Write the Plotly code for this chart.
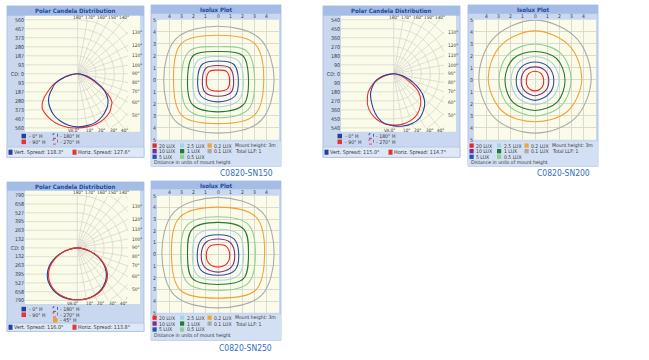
import numpy as np
import plotly.graph_objects as go

W, H = 649, 360

# ---------------- data ----------------
V_ANGLES = [0, 10, 20, 30, 40, 45, 50, 55, 60, 65, 70, 75, 80, 85, 90]

# candela per vertical angle for each horizontal plane
SN150_CD_0H   = [550, 545, 535, 505, 462, 435, 400, 350, 290, 215, 150, 100, 55, 20, 0]
SN150_CD_180H = [550, 540, 520, 490, 445, 418, 385, 342, 295, 262, 205, 145, 85, 30, 0]
SN150_CD_90H  = [560, 558, 552, 540, 510, 482, 455, 380, 272, 185, 112, 62, 30, 10, 0]
SN150_CD_270H = [560, 565, 560, 548, 525, 510, 470, 410, 340, 280, 210, 140, 80, 30, 0]

SN200_CD_0H   = [520, 530, 528, 510, 460, 430, 390, 340, 280, 215, 160, 110, 65, 25, 0]
SN200_CD_180H = [520, 505, 462, 402, 345, 320, 296, 266, 236, 210, 182, 138, 85, 35, 0]
SN200_CD_90H  = [512, 510, 495, 465, 410, 375, 335, 285, 212, 150, 105, 70, 40, 15, 0]
SN200_CD_270H = [512, 505, 485, 450, 400, 365, 335, 300, 255, 210, 160, 110, 65, 25, 0]

SN250_CD_0H   = [780, 775, 755, 715, 650, 605, 555, 495, 425, 350, 270, 190, 110, 45, 0]
SN250_CD_180H = [780, 778, 762, 725, 665, 625, 575, 515, 445, 365, 280, 195, 115, 45, 0]
SN250_CD_90H  = [780, 778, 762, 728, 668, 628, 578, 515, 440, 360, 275, 190, 110, 45, 0]
SN250_CD_270H = [780, 772, 750, 710, 645, 600, 550, 490, 420, 345, 265, 185, 108, 42, 0]
SN250_CD_45H  = [780, 776, 758, 720, 657, 615, 565, 505, 432, 355, 272, 190, 110, 45, 0]

CD_MAX_LABEL = {"SN150": 560, "SN200": 540, "SN250": 790}
VERT_SPREAD = {"SN150": "118.3°", "SN200": "115.0°", "SN250": "116.0°"}
HORIZ_SPREAD = {"SN150": "127.6°", "SN200": "114.7°", "SN250": "113.8°"}
TOP_ANGLE_LABELS = [180, 170, 160, 150, 140]
RIGHT_ANGLE_LABELS = [130, 120, 110, 100, 90, 80, 70, 60, 50]
BOTTOM_ANGLE_LABELS = [0, 10, 20, 30, 40]

# isolux contour radii (units of mount height) in directions E, NE, N, NW, W, SW, S, SE
ISO_DIRS = [0, 45, 90, 135, 180, 225, 270, 315]
LUX_LABELS = ["20 LUX", "10 LUX", "5 LUX", "2.5 LUX", "1 LUX", "0.5 LUX", "0.2 LUX", "0.1 LUX"]
SN150_ISO_RADII = [
    [0.95, 0.98, 0.80, 0.98, 0.95, 1.08, 0.95, 1.08],
    [1.28, 1.38, 1.18, 1.38, 1.28, 1.50, 1.38, 1.50],
    [1.67, 1.82, 1.56, 1.82, 1.67, 1.95, 1.85, 1.95],
    [2.08, 2.30, 1.94, 2.30, 2.08, 2.42, 2.27, 2.42],
    [2.50, 2.85, 2.35, 2.85, 2.50, 2.95, 2.68, 2.95],
    [3.00, 3.35, 2.75, 3.35, 3.00, 3.50, 3.17, 3.50],
    [3.75, 4.25, 3.70, 4.25, 3.65, 4.20, 3.66, 4.20],
    [4.60, 4.85, 4.45, 4.85, 4.45, 4.90, 4.45, 4.90],
]
SN200_ISO_RADII = [
    [0.71, 0.72, 0.71, 0.72, 0.71, 0.85, 0.93, 0.85],
    [1.13, 1.12, 1.07, 1.12, 1.13, 1.25, 1.34, 1.25],
    [1.54, 1.53, 1.48, 1.53, 1.54, 1.65, 1.72, 1.65],
    [1.97, 1.98, 1.94, 1.98, 1.97, 2.05, 2.08, 2.05],
    [2.46, 2.50, 2.35, 2.50, 2.46, 2.60, 2.57, 2.60],
    [2.96, 3.05, 2.98, 3.05, 2.96, 3.05, 3.03, 3.05],
    [3.83, 4.00, 4.07, 4.00, 3.83, 3.75, 3.50, 3.75],
    [4.60, 4.85, 4.97, 4.85, 4.60, 4.60, 4.45, 4.60],
]
SN250_ISO_RADII = [
    [0.96, 0.95, 0.83, 0.95, 0.96, 1.08, 1.10, 1.08],
    [1.37, 1.42, 1.30, 1.42, 1.37, 1.55, 1.53, 1.55],
    [1.70, 1.85, 1.67, 1.85, 1.70, 1.95, 1.80, 1.95],
    [2.10, 2.40, 2.14, 2.40, 2.10, 2.45, 2.22, 2.45],
    [2.50, 3.00, 2.72, 3.00, 2.50, 2.95, 2.58, 2.95],
    [3.06, 3.55, 3.20, 3.55, 3.06, 3.50, 3.10, 3.50],
    [3.82, 4.45, 4.03, 4.45, 3.82, 4.35, 3.75, 4.35],
    [4.60, 5.10, 4.86, 5.10, 4.60, 5.00, 4.58, 5.00],
]
ISO_TICKS = [-5, -4, -3, -2, -1, 0, 1, 2, 3, 4, 5]
ISO_TOP_TICKS = [-4, -3, -2, -1, 0, 1, 2, 3, 4]

# ---------------- style ----------------
FONT = "DejaVu Sans Condensed, Liberation Sans Narrow, Arial Narrow, DejaVu Sans, sans-serif"
FRAME_FILL = "#c9d8ef"
FRAME_LINE = "#a3bbe0"
TITLE_FILL = "#a3bde6"
TITLE_TEXT = "#1d4a9a"
PLOT_BG = "#fbfbe9"
STRIP_FILL = "#dfe8f6"
LEGEND_FILL = "#d3e0f3"
GRID = "#d3d3cb"
CD_BLUE = "#24409e"
CD_RED = "#e63434"
CD_ORANGE = "#f0a030"
LUX_COLORS = ["#e8282c", "#7e2d8c", "#2a4fb0", "#a5d5e0", "#237a34", "#8fd08f", "#f2a43a", "#aaaaaa"]
LABEL_BLUE = "#2f6dc4"
TXT = "#3a3a3a"
TOP_LABEL_DX = [0.3, 12.3, 24.3, 35.5, 46.5]     # pixel offsets of angle labels
BOTTOM_LABEL_DX = [0.3, 12.3, 23.5, 35.5, 46.5]

fig = go.Figure()
shapes, annotations, axes = [], [], {}
naxes = [0]


def px_x(px):
    return px / W


def px_y(py):
    return 1 - py / H


def rect(x0, y0, x1, y1, fill, line=None, lw=0.8, dash=None):
    shapes.append(dict(type="rect", xref="paper", yref="paper", layer="below",
                       x0=px_x(x0), x1=px_x(x1), y0=px_y(y1), y1=px_y(y0),
                       fillcolor=fill,
                       line=dict(color=line if line else fill, width=lw if line else 0,
                                 dash=dash if dash else "solid")))


def text(x, y, s, size=5.5, color=TXT, xanchor="left", bold=False, family=FONT):
    if bold:
        s = "<b>" + s + "</b>"
    annotations.append(dict(x=px_x(x), y=px_y(y), xref="paper", yref="paper", text=s,
                            showarrow=False, xanchor=xanchor, yanchor="middle",
                            borderpad=0,
                            font=dict(size=size, color=color, family=family)))


def add_axes(px0, py0, px1, py1, xr, yr):
    naxes[0] += 1
    n = naxes[0]
    sfx = "" if n == 1 else str(n)
    axes["xaxis" + sfx] = dict(domain=[px_x(px0), px_x(px1)], range=xr, anchor="y" + sfx,
                               fixedrange=True)
    axes["yaxis" + sfx] = dict(domain=[px_y(py1), px_y(py0)], range=yr, anchor="x" + sfx,
                               fixedrange=True)
    return "x" + sfx, "y" + sfx, sfx


def polar_loop(right_vals, left_vals):
    th = np.radians(V_ANGLES)
    rr = np.array(right_vals, dtype=float)
    rl = np.array(left_vals, dtype=float)
    xr_, yr_ = rr * np.sin(th), -rr * np.cos(th)
    xl_, yl_ = -rl[::-1] * np.sin(th[::-1]), -rl[::-1] * np.cos(th[::-1])
    return np.concatenate([xr_, xl_[1:]]), np.concatenate([yr_, yl_[1:]])


def polar_panel(key, dx, frame, plot, center, half, grid_right, legend_rows, strip, curves,
                title_y, extra=None):
    M = CD_MAX_LABEL[key]
    fx0, fy0, fx1, fy1 = frame
    fx0 += dx; fx1 += dx
    px0, py0, px1, py1 = plot
    px0 += dx; px1 += dx
    cx, cy = center[0] + dx, center[1]
    rect(fx0, fy0, fx1, fy1, FRAME_FILL, FRAME_LINE, 0.8)
    rect(fx0, fy0, fx1, py0, TITLE_FILL)
    rect(fx0, strip[0], fx1, strip[1], STRIP_FILL, FRAME_LINE, 0.6)
    rect(px0, py0, px1, py1, PLOT_BG)
    text((fx0 + fx1) / 2, title_y, "Polar Candela Distribution", size=6,
         color=TITLE_TEXT, xanchor="center", bold=True)

    s = half / M
    xr = [(px0 - cx) / s, (px1 - cx) / s]
    yr = [-(py1 - cy) / s, (cy - py0) / s]
    xa, ya, sfx = add_axes(px0, py0, px1, py1, xr, yr)
    tv = [k * M / 6 for k in range(-6, 7)]
    tt = ["CD: 0" if k == 0 else str(int(round(abs(k) * M / 6))) for k in range(-6, 7)]
    axes["xaxis" + sfx].update(visible=False)
    axes["yaxis" + sfx].update(showgrid=False, zeroline=False, showline=False, ticks="",
                               tickvals=tv, ticktext=tt,
                               tickfont=dict(size=5.3, color=TXT, family=FONT))

    # grid: horizontal lines on the left, radial lines + arcs on the right
    x_edge = (grid_right + dx - cx) / s
    gx, gy = [], []
    for v in tv:
        gx += [xr[0], 0, None]
        gy += [v, v, None]
    for a in range(0, 181, 10):
        t = np.radians(a)
        ux, uy = np.sin(t), -np.cos(t)
        c = []
        if ux > 1e-9:
            c.append(x_edge / ux)
        if abs(uy) > 1e-9:
            c.append(M / abs(uy))
        L = min(c)
        gx += [0, L * ux, None]
        gy += [0, L * uy, None]
    ts = np.radians(np.arange(0, 180.1, 1.0))
    for k in range(1, 9):
        r = k * M / 6
        for X, Y in zip(r * np.sin(ts), -r * np.cos(ts)):
            if X <= x_edge + 1e-6 and abs(Y) <= M + 1e-6:
                gx.append(X); gy.append(Y)
            else:
                gx.append(None); gy.append(None)
        gx.append(None); gy.append(None)
    fig.add_trace(go.Scatter(x=gx, y=gy, mode="lines", xaxis=xa, yaxis=ya,
                             line=dict(color=GRID, width=0.7), hoverinfo="skip",
                             showlegend=False, connectgaps=False))

    for right_vals, left_vals, col in curves:
        lx, ly = polar_loop(right_vals, left_vals)
        fig.add_trace(go.Scatter(x=lx, y=ly, mode="lines", xaxis=xa, yaxis=ya,
                                 line=dict(color=col, width=1.1, shape="spline", smoothing=0.8),
                                 hoverinfo="skip", showlegend=False))

    # angle labels
    for a in RIGHT_ANGLE_LABELS:
        t = np.radians(a)
        annotations.append(dict(x=x_edge + 2.5 / s, y=-x_edge * np.cos(t) / np.sin(t),
                                xref=xa, yref=ya, text=f"{a}°", showarrow=False,
                                xanchor="left", yanchor="middle", borderpad=0,
                                font=dict(size=4.8, color=TXT, family=FONT)))
    y_top = cy - half - 2.6
    for a, off in zip(TOP_ANGLE_LABELS, TOP_LABEL_DX):
        text(cx + off, y_top, f"{a}°", size=4.6, xanchor="center")
    y_bot = cy + half + 2.6
    for a, off in zip(BOTTOM_ANGLE_LABELS, BOTTOM_LABEL_DX):
        if a == 0:
            text(cx + 2, y_bot, "VA:0°", size=4.6, xanchor="right")
        else:
            text(cx + off, y_bot, f"{a}°", size=4.6, xanchor="center")

    # legend
    r1, r2 = legend_rows[0], legend_rows[1]
    rect(21.5 + dx, r1 - 2.3, 26 + dx, r1 + 2.3, CD_BLUE)
    text(28 + dx, r1, "- 0° H", size=5.2)
    rect(21.5 + dx, r2 - 2.3, 26 + dx, r2 + 2.3, CD_RED)
    text(28 + dx, r2, "- 90° H", size=5.2)
    rect(53 + dx, r1 - 2.3, 57.5 + dx, r1 + 2.3, "rgba(0,0,0,0)", CD_BLUE, 0.8, "dot")
    text(59 + dx, r1, "- 180° H", size=5.2)
    rect(53 + dx, r2 - 2.3, 57.5 + dx, r2 + 2.3, "rgba(0,0,0,0)", CD_RED, 0.8, "dot")
    text(59 + dx, r2, "- 270° H", size=5.2)
    if extra:
        r3 = legend_rows[2]
        rect(53 + dx, r3 - 2.3, 57.5 + dx, r3 + 2.3, CD_ORANGE)
        text(59 + dx, r3, extra, size=5.2)

    sy = (strip[0] + strip[1]) / 2
    rect(fx0 + 1.5, sy - 2.6, fx0 + 5.5, sy + 2.6, CD_BLUE)
    text(fx0 + 6, sy, "Vert. Spread: " + VERT_SPREAD[key], size=5.4)
    rect(fx0 + 65.5, sy - 2.6, fx0 + 69.5, sy + 2.6, CD_RED)
    text(fx0 + 70, sy, "Horiz. Spread: " + HORIZ_SPREAD[key], size=5.4)


def iso_loop(radii):
    t = np.radians(ISO_DIRS + [ISO_DIRS[0]])
    r = np.array(list(radii) + [radii[0]], dtype=float)
    return r * np.cos(t), r * np.sin(t)


def iso_panel(dx, frame, title_bottom, title_y, plot, legend_box, rows, dist_y, radii, label,
              label_pos):
    fx0, fy0, fx1, fy1 = frame
    fx0 += dx; fx1 += dx
    px0, py0, px1, py1 = plot
    px0 += dx; px1 += dx
    rect(fx0, fy0, fx1, fy1, FRAME_FILL, FRAME_LINE, 0.8)
    rect(fx0, fy0, fx1, title_bottom, TITLE_FILL)
    rect(fx0, legend_box[0], fx1, legend_box[1], LEGEND_FILL)
    rect(px0, py0, px1, py1, PLOT_BG)
    text((fx0 + fx1) / 2, title_y, "Isolux Plot", size=6,
         color=TITLE_TEXT, xanchor="center", bold=True)
    xa, ya, sfx = add_axes(px0, py0, px1, py1, [-5, 5], [-5, 5])
    common = dict(showgrid=True, gridcolor=GRID, gridwidth=0.8, zeroline=False, showline=False,
                  ticks="", tickvals=ISO_TICKS)
    axes["xaxis" + sfx].update(showticklabels=False, **common)
    axes["yaxis" + sfx].update(ticktext=[str(abs(v)) for v in ISO_TICKS],
                               tickfont=dict(size=5.3, color=TXT, family=FONT), **common)
    for v in ISO_TOP_TICKS:
        annotations.append(dict(x=v, y=px_y(py0 - 3.4), xref=xa, yref="paper", text=str(abs(v)),
                                showarrow=False, xanchor="center", yanchor="middle", borderpad=0,
                                font=dict(size=5, color=TXT, family=FONT)))
    for rad, col in zip(radii[::-1], LUX_COLORS[::-1]):
        lx, ly = iso_loop(rad)
        fig.add_trace(go.Scatter(x=lx, y=ly, mode="lines", xaxis=xa, yaxis=ya,
                                 line=dict(color=col, width=1.1, shape="spline", smoothing=1.0),
                                 hoverinfo="skip", showlegend=False))
    cols = [(152.5, 158), (180, 185.5), (207.5, 213)]
    for i, (lab, col) in enumerate(zip(LUX_LABELS, LUX_COLORS)):
        c, r = i // 3, i % 3
        sx, tx = cols[c]
        yy = rows[r]
        rect(sx + dx, yy - 2.2, sx + 4.2 + dx, yy + 2.2, col)
        text(tx + dx, yy, lab, size=5.1)
    text(234 + dx, rows[0], "Mount height: 3m", size=5.1)
    text(234 + dx, rows[1], "Total LLF: 1", size=5.1)
    text(152.5 + dx, dist_y, "Distance in units of mount height", size=5.1)
    text(label_pos[0] + dx, label_pos[1], label, size=8.5, color=LABEL_BLUE, xanchor="center")


# ----- polar candela panels -----
polar_panel("SN150", 0, (7, 3, 144, 157), (25, 13, 140, 131), (77.7, 72), 55, 128,
            [135.3, 141.2], (146.5, 157),
            [(SN150_CD_90H, SN150_CD_270H, CD_RED), (SN150_CD_0H, SN150_CD_180H, CD_BLUE)],
            title_y=7.6)
polar_panel("SN200", 316, (7, 3, 144, 157), (25, 13, 140, 131), (77.7, 72), 55, 128,
            [135.3, 141.2], (146.5, 157),
            [(SN200_CD_90H, SN200_CD_270H, CD_RED), (SN200_CD_0H, SN200_CD_180H, CD_BLUE)],
            title_y=7.6)
polar_panel("SN250", 0, (7, 182, 144, 334), (25, 191, 140, 306), (77.3, 249), 53.5, 128,
            [311.3, 317, 322.7], (325.5, 334),
            [(SN250_CD_45H, SN250_CD_45H, CD_ORANGE), (SN250_CD_0H, SN250_CD_180H, CD_BLUE),
             (SN250_CD_90H, SN250_CD_270H, CD_RED)], title_y=186.2, extra="- 45° H")

# ----- isolux panels -----
iso_panel(0, (151, 2, 281, 166), 11, 6.8, (157, 17, 279, 139), (141, 166),
          [145, 150.7, 156.4], 162, SN150_ISO_RADII, "C0820-SN150", (246, 173))
iso_panel(317, (151, 2, 281, 166), 11, 6.8, (157, 17, 279, 139), (141, 166),
          [145, 150.7, 156.4], 162, SN200_ISO_RADII, "C0820-SN200", (246, 173))
iso_panel(0, (151, 181, 281, 343), 189.5, 185.6, (157, 196, 279, 315), (317, 343),
          [320, 326, 332], 338, SN250_ISO_RADII, "C0820-SN250", (245, 351))

fig.update_layout(width=W, height=H, margin=dict(l=0, r=0, t=0, b=0),
                  paper_bgcolor="white", plot_bgcolor="rgba(0,0,0,0)",
                  showlegend=False, shapes=shapes, annotations=annotations, **axes)
fig.write_html("out.html", config={"displayModeBar": False, "staticPlot": True},
               post_script="document.body.style.margin='0';document.body.style.padding='0';"
                           "document.body.style.overflow='hidden';")
